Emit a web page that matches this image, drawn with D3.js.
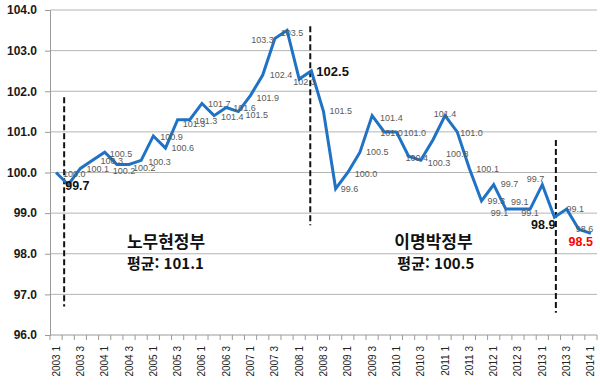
<!DOCTYPE html>
<html lang="ko">
<head>
<meta charset="UTF-8">
<script src="https://d3js.org/d3.v7.min.js"></script>
<title>Index</title>
<style>
body { margin: 0; background: #fff; }
text { font-family: "Liberation Sans", Arial, sans-serif; }
.ylab text { font: bold 12px "Liberation Sans", Arial, sans-serif; fill: #1a1a1a; }
.xlab text { font: 10px "Liberation Sans", Arial, sans-serif; fill: #222; }
.grid line { stroke: #b4b4b4; stroke-width: 1; }
.pt { font-size: 9px; fill: #595959; }
.gov { font: bold 17px "Noto Sans CJK KR", sans-serif; fill: #111; }
</style>
</head>
<body>
<script>

// quarters 2003.1 .. 2014.1
var categories = [
  "2003 1","2003 2","2003 3","2003 4","2004 1","2004 2","2004 3","2004 4",
  "2005 1","2005 2","2005 3","2005 4","2006 1","2006 2","2006 3","2006 4",
  "2007 1","2007 2","2007 3","2007 4","2008 1","2008 2","2008 3","2008 4",
  "2009 1","2009 2","2009 3","2009 4","2010 1","2010 2","2010 3","2010 4",
  "2011 1","2011 2","2011 3","2011 4","2012 1","2012 2","2012 3","2012 4",
  "2013 1","2013 2","2013 3","2013 4","2014 1"
];

var values = [
  100.0, 99.7, 100.1, 100.3, 100.5, 100.2, 100.2, 100.3,
  100.9, 100.6, 101.3, 101.3, 101.7, 101.4, 101.6, 101.5,
  101.9, 102.4, 103.3, 103.5, 102.3, 102.5, 101.5, 99.6,
  100.0, 100.5, 101.4, 101.0, 101.0, 100.4, 100.3, 100.8,
  101.4, 101.0, 100.1, 99.3, 99.7, 99.1, 99.1, 99.1,
  99.7, 98.9, 99.1, 98.6, 98.5
];

var yTicks = [96, 97, 98, 99, 100, 101, 102, 103, 104];

// government change markers: category, value span of the dashed line
var dividers = [
  { cat: "2003 2", top: 101.85, bottom: 96.7 },
  { cat: "2008 2", top: 103.6, bottom: 98.7 },
  { cat: "2013 2", top: 100.8, bottom: 96.55 }
];
var dividerShift = [2, 5, 7.5];

var govNames = ["노무현정부", "이명박정부"];
var govAvg = ["평균: 101.1", "평균: 100.5"];
var govAt = ["2004 3", "2010 1"];

// label placement [dx, dy, anchor] for each point
var labelPos = [
  [7,1,"start"],[-3,1,"start"],[6,1,"start"],[8,1,"start"],[5,2,"start"],[-4,7,"start"],[4,4,"start"],[7,2,"start"],
  [7,1,"start"],[6,0,"start"],[5,4,"start"],[5,1,"start"],[6,1,"start"],[7,1,"start"],[7,0,"start"],[7,3,"start"],
  [6,3,"start"],[7,0,"start"],[-1,2,"end"],[5,3,"middle"],[-6,3,"start"],[5,1,"start"],[6,-1,"start"],[5,0,"start"],
  [7,1,"start"],[6,0,"start"],[8,2,"start"],[-4,1,"start"],[7,1,"start"],[-3,2,"start"],[7,3,"start"],[13,14,"start"],
  [0,-2,"middle"],[3,1,"start"],[7,1,"start"],[6,0,"start"],[7,-1,"start"],[-15,4,"start"],[-7,-7,"start"],[-9,4,"start"],
  [2,-6,"end"],[1,8,"end"],[0,0,"start"],[-3,0,"start"],[2,9,"end"]
];

var bold = { 1: "#111", 21: "#111", 41: "#111", 44: "#ff0000" };

var width = 600,
    height = 392,
    plotLeft = 50, plotRight = 597, plotTop = 10, plotBottom = 335;

var svg = d3.select("body").append("svg")
    .attr("width", width)
    .attr("height", height);

var x = d3.scaleBand().domain(categories).range([plotLeft, plotRight]);
var y = d3.scaleLinear().domain([96, 104]).range([plotBottom, plotTop]);
var cx = function(c) { return x(c) + x.bandwidth() / 2; };

// gridlines
svg.append("g").attr("class", "grid")
  .selectAll("line")
  .data(yTicks.slice(1))
  .enter().append("line")
    .attr("x1", plotLeft).attr("x2", plotRight)
    .attr("y1", function(d) { return y(d); })
    .attr("y2", function(d) { return y(d); });

// y axis
var yAxis = svg.append("g").attr("class", "ylab")
    .attr("transform", "translate(" + plotLeft + ",0)")
    .call(d3.axisLeft(y).tickValues(yTicks).tickFormat(d3.format(".1f")).tickSize(5).tickPadding(8));
yAxis.select(".domain").attr("stroke", "#9a9a9a");
yAxis.selectAll(".tick line").attr("stroke", "#9a9a9a");

// x axis line and ticks at category boundaries
svg.append("line")
    .attr("x1", plotLeft).attr("x2", plotRight)
    .attr("y1", plotBottom).attr("y2", plotBottom)
    .attr("stroke", "#9a9a9a");
svg.append("g").selectAll("line")
  .data(categories.concat(["end"]))
  .enter().append("line")
    .attr("x1", function(d) { return d == "end" ? plotRight : x(d); })
    .attr("x2", function(d) { return d == "end" ? plotRight : x(d); })
    .attr("y1", plotBottom).attr("y2", plotBottom + 5)
    .attr("stroke", "#9a9a9a");

var xAxis = svg.append("g").attr("class", "xlab")
    .attr("transform", "translate(0," + plotBottom + ")")
    .call(d3.axisBottom(x)
      .tickValues(categories.filter(function(d, i) { return i % 2 == 0; }))
      .tickSize(0));
xAxis.select(".domain").remove();
xAxis.selectAll("text")
    .attr("transform", "rotate(-90)")
    .attr("x", -11)
    .attr("y", 0)
    .attr("dy", "0.35em")
    .style("text-anchor", "end");

// dashed dividers
svg.append("g").selectAll("line")
  .data(dividers)
  .enter().append("line")
    .attr("x1", function(d, i) { return x(d.cat) + dividerShift[i]; })
    .attr("x2", function(d, i) { return x(d.cat) + dividerShift[i]; })
    .attr("y1", function(d) { return y(d.top); })
    .attr("y2", function(d) { return y(d.bottom); })
    .attr("stroke", "#111")
    .attr("stroke-width", 2)
    .attr("stroke-dasharray", "6,3");

// line
var line = d3.line()
    .x(function(d, i) { return cx(categories[i]); })
    .y(function(d) { return y(d); });

svg.append("path")
    .datum(values)
    .attr("fill", "none")
    .attr("stroke", "#1f72c4")
    .attr("stroke-width", 3)
    .attr("d", line);

// point labels
svg.append("g").selectAll("text")
  .data(values)
  .enter().append("text")
    .attr("class", function(d, i) { return bold[i] ? "" : "pt"; })
    .attr("x", function(d, i) { return cx(categories[i]) + labelPos[i][0]; })
    .attr("y", function(d, i) { return y(d) + labelPos[i][1]; })
    .attr("dominant-baseline", "central")
    .attr("text-anchor", function(d, i) { return labelPos[i][2]; })
    .style("font-weight", function(d, i) { return bold[i] ? "bold" : null; })
    .style("font-size", function(d, i) { return bold[i] ? (i == 21 ? "13px" : "12.5px") : null; })
    .style("fill", function(d, i) { return bold[i] || null; })
    .text(function(d) { return d.toFixed(1); });

// government captions
var gov = svg.append("g").selectAll("g")
  .data(govNames)
  .enter().append("g")
    .attr("transform", function(d, i) { return "translate(" + (x(govAt[i]) + 4) + ",0)"; });
gov.append("text")
    .attr("class", "gov")
    .attr("y", 248)
    .text(function(d) { return d; });
gov.append("text")
    .attr("class", "gov")
    .attr("x", function(d, i) { return i * 3; })
    .attr("y", 269)
    .style("font-size", "15px")
    .text(function(d, i) { return govAvg[i]; });

</script>
</body>
</html>
